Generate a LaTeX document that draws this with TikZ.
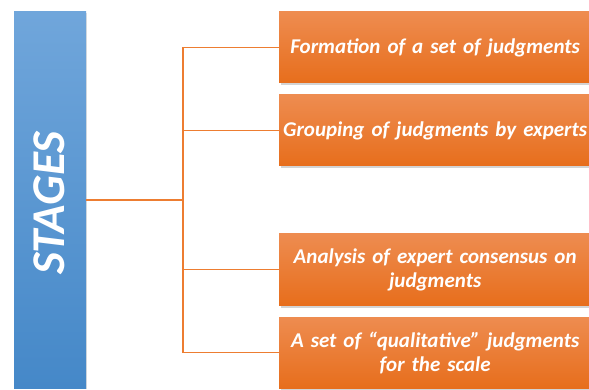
\documentclass[tikz,border=0pt]{standalone}
\usepackage{fontspec}
\setmainfont{Carlito}
\usetikzlibrary{shadows}
\definecolor{otop}{HTML}{EE8C50}
\definecolor{obot}{HTML}{E76E1C}
\definecolor{btop}{HTML}{70A6DB}
\definecolor{bbot}{HTML}{4588C8}
\definecolor{oline}{HTML}{ED7D31}
\tikzset{
  stagebox/.style={draw=none, top color=btop, bottom color=bbot, minimum width=72pt, minimum height=376pt, inner sep=0pt},
  stepbox/.style={draw=none, top color=otop, bottom color=obot, minimum width=310pt, minimum height=71pt, inner sep=0pt, anchor=west,
    text=white, font=\fontsize{21}{24}\selectfont\bfseries\itshape, align=center, text width=312pt,
    drop shadow={shadow xshift=1.5pt, shadow yshift=-2.5pt, opacity=0.35}},
  conn/.style={draw=oline, line width=1.2pt}
}
\begin{document}
\begin{tikzpicture}[x=1pt,y=-1pt]
\useasboundingbox (0,0) rectangle (589,390);
\node[stagebox, drop shadow={shadow xshift=1pt, shadow yshift=-1pt, opacity=0.25}] (stages) at (50,200) {};
\node[rotate=90, text=white, font=\fontsize{47}{47}\selectfont\bfseries\itshape] (stxt) at (49,203) {STAGES};
\node[stepbox] (b1) at (279,47.5) {Formation of a set of judgments};
\node[stepbox] (b2) at (279,130.5) {Grouping of judgments by experts};
\node[stepbox] (b3) at (279,269.5) {Analysis of expert consensus on\\judgments};
\node[stepbox] (b4) at (279,352.5) {A set of “qualitative” judgments\\for the scale};
\coordinate (j) at (183,200);
\draw[conn] (stages.east) -- (j);
\draw[conn] (j) |- (b1.west);
\draw[conn] (j) |- (b2.west);
\draw[conn] (j) |- (b3.west);
\draw[conn] (j) |- (b4.west);
\end{tikzpicture}
\end{document}
